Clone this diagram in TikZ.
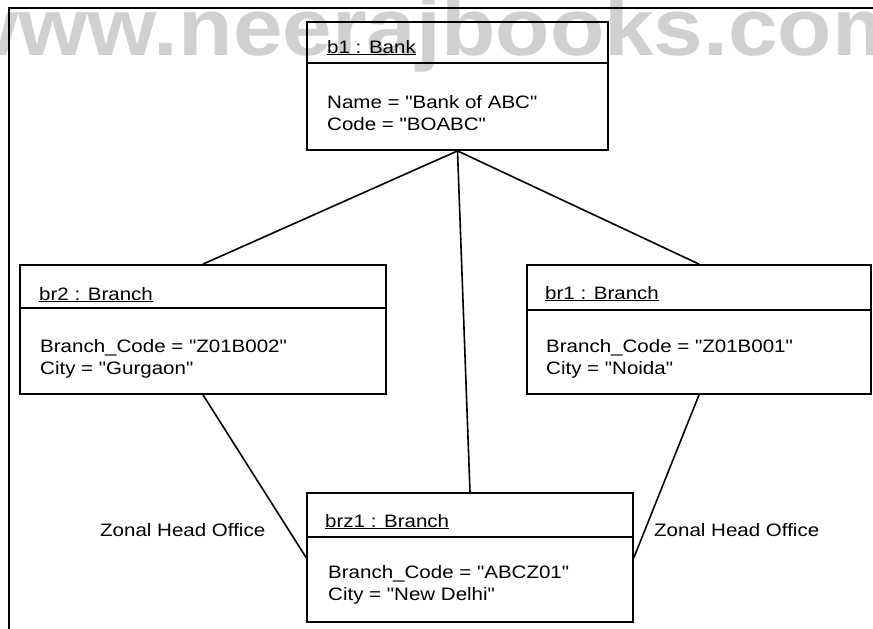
\documentclass[tikz,border=0pt]{standalone}
\usepackage{fontspec}
\setmainfont{Liberation Sans}[FakeStretch=1.14,Ligatures=TeXOff]
\newfontfamily\wmfont{Liberation Sans}[FakeStretch=1.1]
\definecolor{wmgray}{RGB}{208,208,208}

\tikzset{
  objbox/.style={draw, line width=1.8pt, inner sep=0pt},
  txt/.style={anchor=base west, inner sep=0pt},
  link/.style={line width=1.6pt}
}

\begin{document}
\begin{tikzpicture}[x=1pt,y=-1pt,font=\fontsize{18}{22}\selectfont]
\useasboundingbox (0,0) rectangle (873,629);
\clip (0,0) rectangle (873,629);

% watermark
\node[txt,text=wmgray,font=\wmfont\bfseries\fontsize{81}{81}\selectfont] (wm) at (-51,55) {www.neerajbooks.com};

% frame
\draw[line width=1.6pt] (873,8) -- (9,8) -- (9,629);

% objects
\node[objbox,minimum width=301pt,minimum height=128pt] (bank) at (457.5,86) {};
\draw[line width=1.8pt] (bank.west |- 0,63) -- (bank.east |- 0,63);
\node[txt] (banktitle) at (327,53) {\underline{b1 : Bank}};
\node[txt] (bankname) at (327,108) {Name = "Bank of ABC"};
\node[txt] (bankcode) at (327,130) {Code = "BOABC"};

\node[objbox,minimum width=366pt,minimum height=129pt] (br2) at (203,329.5) {};
\draw[line width=1.8pt] (br2.west |- 0,308) -- (br2.east |- 0,308);
\node[txt] (br2title) at (39,300) {\underline{br2 : Branch}};
\node[txt] (br2code) at (40,352) {Branch\_Code = "Z01B002"};
\node[txt] (br2city) at (40,374) {City = "Gurgaon"};

\node[objbox,minimum width=344pt,minimum height=129pt] (br1) at (699,329.5) {};
\draw[line width=1.8pt] (br1.west |- 0,310) -- (br1.east |- 0,310);
\node[txt] (br1title) at (545,299) {\underline{br1 : Branch}};
\node[txt] (br1code) at (546,352) {Branch\_Code = "Z01B001"};
\node[txt] (br1city) at (546,374) {City = "Noida"};

\node[objbox,minimum width=326pt,minimum height=129pt] (brz1) at (470,557.5) {};
\draw[line width=1.8pt] (brz1.west |- 0,537) -- (brz1.east |- 0,537);
\node[txt] (brz1title) at (325,527) {\underline{brz1 : Branch}};
\node[txt] (brz1code) at (328,578) {Branch\_Code = "ABCZ01"};
\node[txt] (brz1city) at (328,600) {City = "New Delhi"};

% links
\draw[link] (bank.south) -- (br2.north);
\draw[link] (bank.south) -- (br1.north);
\draw[link] (bank.south) -- (brz1.north);
\draw[link] (br2.south) -- (brz1.west);
\draw[link] (br1.south) -- (brz1.east);

\node[txt] (leftlabel) at (100,536) {Zonal Head Office};
\node[txt] (rightlabel) at (654,536) {Zonal Head Office};

\end{tikzpicture}
\end{document}
